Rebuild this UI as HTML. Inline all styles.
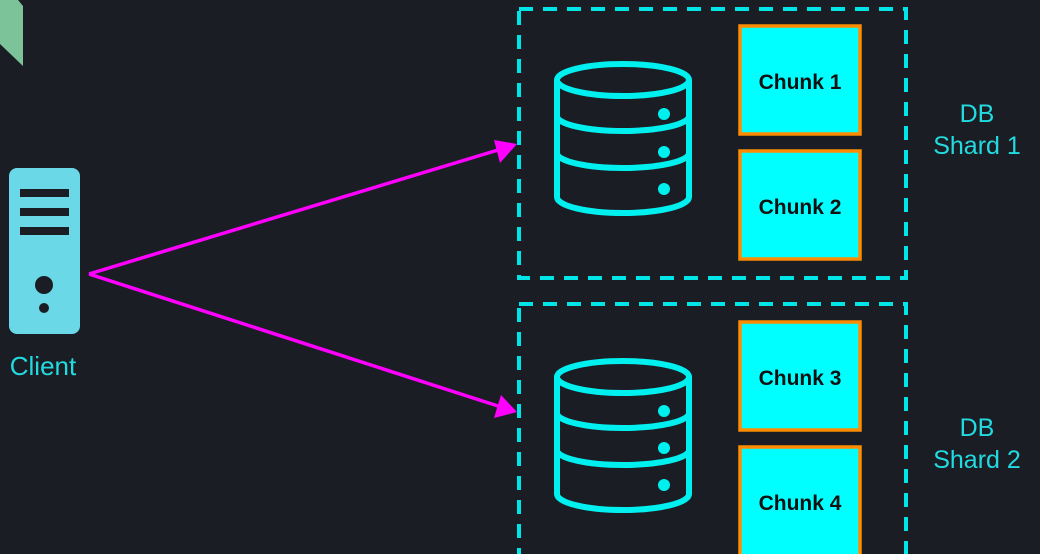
<!DOCTYPE html>
<html><head><meta charset="utf-8"><style>
html,body{margin:0;padding:0;background:#1b1d24;}
svg{display:block;}
text{font-family:"Liberation Sans",sans-serif;}
</style></head><body>
<svg width="1040" height="554" viewBox="0 0 1040 554" xmlns="http://www.w3.org/2000/svg">
<rect width="1040" height="554" fill="#1b1d24"/>
<polygon points="0,0 18,0 23,6 23,66 0,44" fill="#7cc39a"/>
<rect x="9" y="168" width="71" height="166" rx="8" fill="#6ad8e6"/>
<rect x="20" y="189" width="49" height="8" fill="#1b1d24"/>
<rect x="20" y="208" width="49" height="8" fill="#1b1d24"/>
<rect x="20" y="227" width="49" height="8" fill="#1b1d24"/>
<circle cx="44" cy="285" r="9" fill="#1b1d24"/>
<circle cx="44" cy="308" r="5" fill="#1b1d24"/>
<text x="43" y="375" font-size="26" fill="#22dbe0" text-anchor="middle">Client</text>
<g stroke="#ff00ff" stroke-width="3.5" fill="none">
<line x1="89" y1="274" x2="498" y2="150"/>
<line x1="89" y1="274" x2="498" y2="406"/>
</g>
<polygon points="517,144 494,140 500,163" fill="#ff00ff"/>
<polygon points="517,412 501,395 494,418" fill="#ff00ff"/>
<g stroke="#00e5e8" stroke-width="4" fill="none" stroke-dasharray="14 10">
<rect x="519" y="9" width="387" height="269"/>
<rect x="519" y="304" width="387" height="270"/>
</g>
<g stroke="#00f0f0" stroke-width="6" fill="none">
<ellipse cx="623" cy="80" rx="66" ry="16"/>
<path d="M557 80 V197 A66 16 0 0 0 689 197 V80"/>
<path d="M557 116 A66 15 0 0 0 689 116"/>
<path d="M557 153 A66 15 0 0 0 689 153"/>
</g>
<g fill="#00f0f0">
<circle cx="664" cy="114" r="6"/><circle cx="664" cy="152" r="6"/><circle cx="664" cy="189" r="6"/>
</g>
<g transform="translate(0,297)">
<g stroke="#00f0f0" stroke-width="6" fill="none">
<ellipse cx="623" cy="80" rx="66" ry="16"/>
<path d="M557 80 V197 A66 16 0 0 0 689 197 V80"/>
<path d="M557 116 A66 15 0 0 0 689 116"/>
<path d="M557 153 A66 15 0 0 0 689 153"/>
</g>
<g fill="#00f0f0">
<circle cx="664" cy="114" r="6"/><circle cx="664" cy="151" r="6"/><circle cx="664" cy="188" r="6"/>
</g>
</g>
<g fill="#00ffff" stroke="#ff8c00" stroke-width="3.5">
<rect x="740" y="26" width="120" height="108"/>
<rect x="740" y="151" width="120" height="108"/>
<rect x="740" y="322" width="120" height="108"/>
<rect x="740" y="447" width="120" height="120"/>
</g>
<g font-size="21" font-weight="bold" fill="#111" text-anchor="middle">
<text x="800" y="89">Chunk 1</text>
<text x="800" y="214">Chunk 2</text>
<text x="800" y="385">Chunk 3</text>
<text x="800" y="510">Chunk 4</text>
</g>
<g font-size="25" fill="#22dbe0" text-anchor="middle">
<text x="977" y="122">DB</text>
<text x="977" y="154">Shard 1</text>
<text x="977" y="436">DB</text>
<text x="977" y="468">Shard 2</text>
</g>
</svg>
</body></html>
